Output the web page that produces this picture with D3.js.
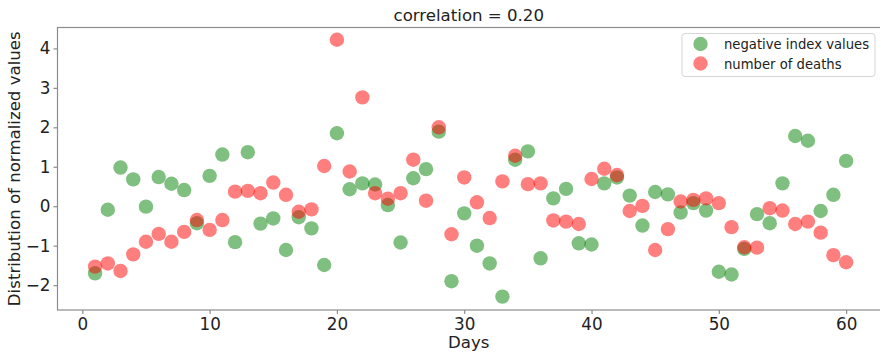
<!DOCTYPE html>
<html>
<head>
<meta charset="utf-8">
<script src="https://cdn.jsdelivr.net/npm/d3@7"></script>
<style>
  body { margin: 0; background: #fff; }
  text { font-family: "DejaVu Sans", sans-serif; fill: #222; }
</style>
</head>
<body>
<svg id="svg-container" width="880" height="353"></svg>
<script>
// days 1..60
const days = d3.range(1, 61)

const negativeIndex = [
  -1.70, -0.09, 0.98, 0.68, -0.01, 0.74, 0.57, 0.41, -0.43, 0.77,
  1.31, -0.91, 1.37, -0.44, -0.31, -1.11, -0.28, -0.56, -1.49, 1.85,
  0.43, 0.58, 0.55, 0.03, -0.92, 0.71, 0.94, 1.89, -1.90, -0.18,
  -1.00, -1.45, -2.29, 1.18, 1.39, -1.32, 0.20, 0.44, -0.94, -0.97,
  0.58, 0.73, 0.27, -0.49, 0.36, 0.30, -0.16, 0.08, -0.11, -1.66,
  -1.73, -1.08, -0.20, -0.43, 0.58, 1.78, 1.66, -0.12, 0.29, 1.15
]

const deaths = [
  -1.53, -1.45, -1.64, -1.22, -0.90, -0.70, -0.90, -0.65, -0.35, -0.60,
  -0.35, 0.37, 0.39, 0.33, 0.60, 0.29, -0.14, -0.08, 1.02, 4.22,
  0.88, 2.76, 0.33, 0.19, 0.33, 1.18, 0.14, 2.00, -0.71, 0.73,
  0.10, -0.30, 0.63, 1.28, 0.56, 0.58, -0.36, -0.39, -0.45, 0.69,
  0.95, 0.79, -0.12, 0.01, -1.11, -0.58, 0.12, 0.16, 0.20, 0.08,
  -0.53, -1.04, -1.05, -0.05, -0.11, -0.45, -0.39, -0.67, -1.24, -1.42
]

const xTicks = [0, 10, 20, 30, 40, 50, 60]
const yTicks = [-2, -1, 0, 1, 2, 3, 4]
const seriesNames = ['negative index values', 'number of deaths']
const seriesColors = ['green', 'red']

const svg = d3.select('#svg-container')
const plotLeft = 57.5
const plotRight = 880
const plotTop = 27.5
const plotBottom = 310

const x = d3.scaleLinear().domain([-1.95, 62.95]).range([plotLeft, plotLeft + (62.95 + 1.95) * 12.73])
const y = d3.scaleLinear().domain([-2.63, 4.53]).range([plotBottom, plotTop])

// frame
svg.append('rect')
  .attr('x', plotLeft).attr('y', plotTop)
  .attr('width', plotRight - plotLeft + 5).attr('height', plotBottom - plotTop)
  .attr('fill', 'none').attr('stroke', '#8c8c8c').attr('stroke-width', 1.2)

const xAxis = svg.append('g')
  .attr('transform', `translate(0,${plotBottom})`)
  .call(d3.axisBottom(x).tickValues(xTicks).tickSize(4).tickPadding(4).tickFormat(d3.format('d')))
const yAxis = svg.append('g')
  .attr('transform', `translate(${plotLeft},0)`)
  .call(d3.axisLeft(y).tickValues(yTicks).tickSize(4).tickPadding(3)
    .tickFormat(d => (d < 0 ? '\u2212' + Math.abs(d) : d)))

;[xAxis, yAxis].forEach(g => {
  g.select('.domain').remove()
  g.selectAll('.tick line').attr('stroke', '#8c8c8c').attr('stroke-width', 1.2)
  g.selectAll('.tick text').style('font-size', '16.8px').style('font-family', '"DejaVu Sans", sans-serif').attr('fill', '#222')
})

// points
const seriesData = [negativeIndex, deaths]
seriesData.forEach((vals, i) => {
  svg.append('g').selectAll('circle')
    .data(vals)
    .join('circle')
    .attr('cx', (d, j) => x(days[j]))
    .attr('cy', d => y(d))
    .attr('r', 7.2)
    .attr('fill', seriesColors[i])
    .attr('fill-opacity', 0.5)
})

// title and labels
svg.append('text')
  .attr('x', (plotLeft + plotRight) / 2).attr('y', 21)
  .attr('text-anchor', 'middle').style('font-size', '16.6px')
  .text('correlation = 0.20')

svg.append('text')
  .attr('x', (plotLeft + plotRight) / 2).attr('y', 348)
  .attr('text-anchor', 'middle').style('font-size', '16.6px')
  .text('Days')

svg.append('text')
  .attr('transform', `translate(20,${(plotTop + plotBottom) / 2}) rotate(-90)`)
  .attr('text-anchor', 'middle').style('font-size', '16.6px')
  .text('Distribution of normalized values')

// legend
const legend = svg.append('g')
legend.append('rect')
  .attr('x', 682).attr('y', 33.5).attr('width', 193).attr('height', 43)
  .attr('rx', 3).attr('fill', '#fff').attr('fill-opacity', 0.8)
  .attr('stroke', '#d6d6d6')
seriesNames.forEach((name, i) => {
  legend.append('circle')
    .attr('cx', 700.5).attr('cy', 44 + i * 19.5).attr('r', 7.2)
    .attr('fill', seriesColors[i]).attr('fill-opacity', 0.5)
  legend.append('text')
    .attr('x', 724).attr('y', 49 + i * 19.5)
    .style('font-size', '13.2px')
    .text(name)
})
</script>
</body>
</html>
